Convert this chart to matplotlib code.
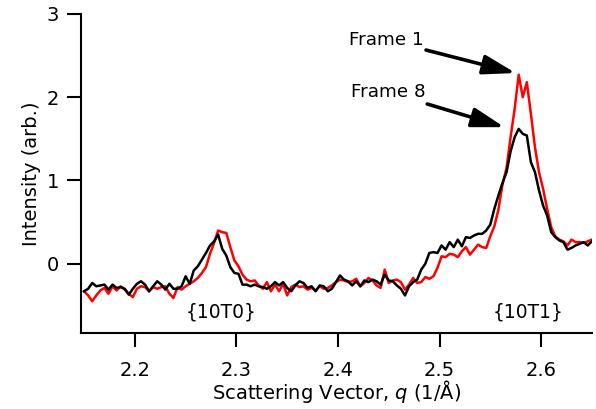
import numpy as np
import matplotlib
matplotlib.use("Agg")
import matplotlib.pyplot as plt

# scattering vector grid (1/A)
q = np.round(np.arange(2.150, 2.6505, 0.004), 4)

# Frame 8 (black)
frame8 = [
    -0.33, -0.30, -0.23, -0.27, -0.26, -0.25, -0.31, -0.25, -0.29, -0.28,
    -0.30, -0.37, -0.30, -0.24, -0.21, -0.25, -0.33, -0.27, -0.21, -0.25,
    -0.31, -0.24, -0.30, -0.30, -0.27, -0.15, -0.24, -0.08, -0.03, 0.05,
    0.13, 0.22, 0.27, 0.35, 0.18, 0.10, -0.04, -0.11, -0.12, -0.25,
    -0.25, -0.27, -0.25, -0.27, -0.28, -0.30, -0.27, -0.22, -0.26, -0.22,
    -0.29, -0.33, -0.26, -0.21, -0.23, -0.29, -0.27, -0.33, -0.26, -0.27,
    -0.33, -0.30, -0.22, -0.14, -0.19, -0.21, -0.26, -0.21, -0.27, -0.20,
    -0.22, -0.19, -0.21, -0.25, -0.13, -0.20, -0.21, -0.26, -0.30, -0.38,
    -0.27, -0.22, -0.19, -0.07, 0.00, 0.13, 0.14, 0.13, 0.22, 0.17,
    0.26, 0.20, 0.29, 0.21, 0.32, 0.31, 0.34, 0.36, 0.36, 0.40,
    0.47, 0.66, 0.82, 0.97, 1.10, 1.35, 1.52, 1.62, 1.56, 1.54,
    1.22, 1.10, 0.88, 0.70, 0.58, 0.38, 0.32, 0.28, 0.26, 0.17,
    0.19, 0.22, 0.24, 0.26, 0.22, 0.27,
]

# Frame 1 (red)
frame1 = [
    -0.33, -0.38, -0.45, -0.38, -0.32, -0.29, -0.36, -0.27, -0.32, -0.27,
    -0.31, -0.36, -0.40, -0.30, -0.27, -0.28, -0.33, -0.28, -0.30, -0.28,
    -0.27, -0.36, -0.41, -0.28, -0.31, -0.27, -0.24, -0.21, -0.17, -0.11,
    -0.04, 0.12, 0.25, 0.40, 0.38, 0.37, 0.20, 0.04, -0.03, -0.13,
    -0.19, -0.21, -0.20, -0.26, -0.30, -0.22, -0.33, -0.25, -0.33, -0.24,
    -0.38, -0.28, -0.25, -0.28, -0.27, -0.31, -0.29, -0.32, -0.27, -0.30,
    -0.29, -0.26, -0.22, -0.19, -0.20, -0.22, -0.21, -0.18, -0.27, -0.23,
    -0.17, -0.20, -0.26, -0.29, -0.07, -0.23, -0.20, -0.19, -0.22, -0.31,
    -0.25, -0.17, -0.23, -0.22, -0.16, -0.18, -0.15, -0.05, 0.09, 0.08,
    0.12, 0.11, 0.08, 0.15, 0.20, 0.11, 0.17, 0.23, 0.20, 0.19,
    0.33, 0.45, 0.65, 0.95, 1.15, 1.52, 1.86, 2.27, 2.00, 2.18,
    1.80, 1.40, 1.10, 0.90, 0.66, 0.44, 0.33, 0.29, 0.27, 0.22,
    0.29, 0.26, 0.26, 0.25, 0.27, 0.29,
]

plt.rcParams['font.family'] = ['DejaVu Sans']

fig = plt.figure(figsize=(5.96, 4.09), dpi=100)
ax = fig.add_axes([0.136, 0.186, 0.857, 0.780])

ax.plot(q, frame1, color='#ff0000', lw=1.8, zorder=2)
ax.plot(q, frame8, color='black', lw=1.8, zorder=3)

ax.set_xlim(2.147, 2.650)
ax.set_ylim(-0.83, 3.0)
ax.set_xticks([2.2, 2.3, 2.4, 2.5, 2.6])
ax.set_yticks([0, 1, 2, 3])

for s in ['top', 'right']:
    ax.spines[s].set_visible(False)
for s in ['left', 'bottom']:
    ax.spines[s].set_linewidth(1.5)
ax.tick_params(direction='out', length=10, width=1.5, labelsize=14)
ax.tick_params(axis='x', pad=10)
ax.tick_params(axis='y', pad=6)

ax.set_xlabel(r"Scattering Vector, $q$ (1/Å)", fontsize=14, labelpad=-1)
ax.set_ylabel("Intensity (arb.)", fontsize=14, labelpad=4)

# peak labels
ax.text(2.285, -0.58, "{10T0}", ha='center', va='center', fontsize=13.4)
ax.text(2.587, -0.58, "{10T1}", ha='center', va='center', fontsize=13.4)

# frame annotations
arrow = dict(arrowstyle='-|>,head_length=1.5,head_width=0.45', color='black',
             lw=2.6, shrinkA=0, shrinkB=0)
ax.annotate("Frame 1", xy=(2.575, 2.29), xytext=(2.484, 2.69),
            ha='right', va='center', fontsize=13.2, arrowprops=arrow)
ax.annotate("Frame 8", xy=(2.564, 1.64), xytext=(2.486, 2.06),
            ha='right', va='center', fontsize=13.2, arrowprops=arrow)

fig.savefig("out.png", dpi=100)
